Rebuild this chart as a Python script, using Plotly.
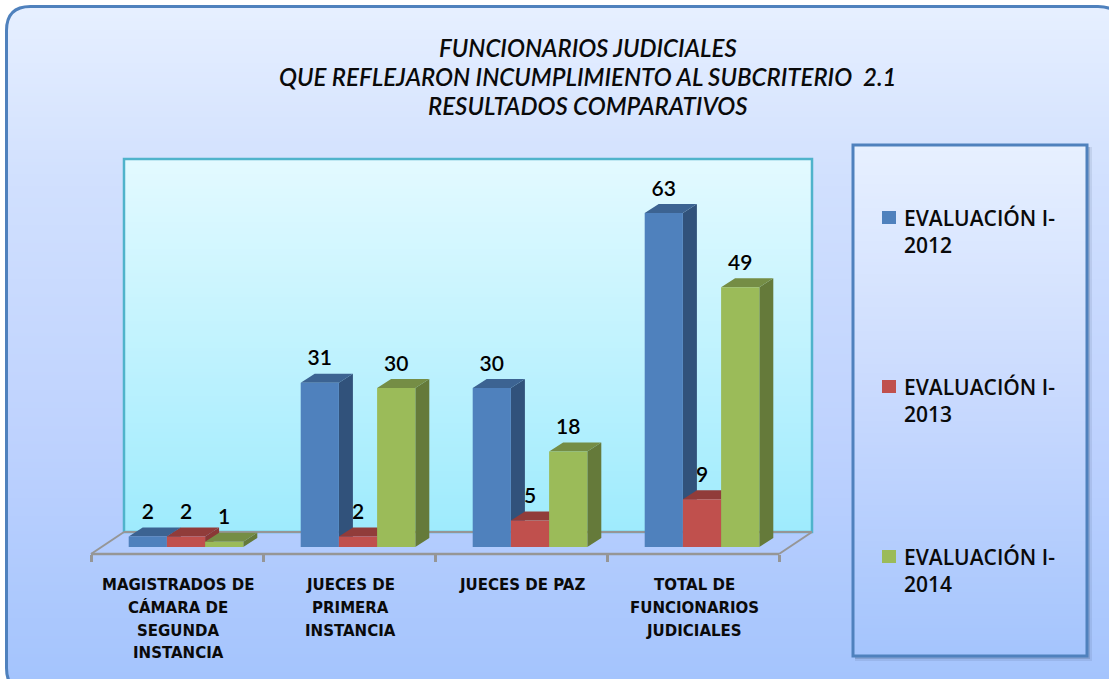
import plotly.graph_objects as go

# ---------- data ----------
title_lines = ["FUNCIONARIOS JUDICIALES",
               "QUE REFLEJARON INCUMPLIMIENTO AL SUBCRITERIO  2.1",
               "RESULTADOS COMPARATIVOS"]
category_lines = [["MAGISTRADOS DE", "CÁMARA DE", "SEGUNDA", "INSTANCIA"],
                  ["JUECES DE", "PRIMERA", "INSTANCIA"],
                  ["JUECES DE PAZ"],
                  ["TOTAL DE", "FUNCIONARIOS", "JUDICIALES"]]
series_2012 = [2, 31, 30, 63]
series_2013 = [2, 2, 5, 9]
series_2014 = [1, 30, 18, 49]
legend_names = [["EVALUACIÓN I-", "2012"], ["EVALUACIÓN I-", "2013"], ["EVALUACIÓN I-", "2014"]]

# ---------- styles ----------
W, H = 1109, 679
FONT = "Lato"
WIDE = "Open Sans"
front = ["#4F81BD", "#C0504D", "#9BBB59"]
side = ["#31527B", "#8A3836", "#657A3A"]
top = ["#3C6392", "#913C3A", "#758D45"]
all_series = [series_2012, series_2013, series_2014]

# plot-area geometry (pixels)
PL, PR, PT, PB = 91, 812, 159, 554
Y0 = 547
PX_X = 172.0   # pixels per category
PX_Y = 5.3     # pixels per unit
DX, DY = 14 / PX_X, 9 / PX_Y
BAR_W = 38.2 / PX_X
GROUP_CENTER = 95 / PX_X
x_range = [0, (PR - PL) / PX_X]
y_range = [-(PB - Y0) / PX_Y, (Y0 - PT) / PX_Y]


def fx(p):
    return (p - PL) / (PR - PL)


def fy(p):
    return (PB - p) / (PB - PT)


def lerp_stops(stops, t):
    for (a, ca), (b, cb) in zip(stops, stops[1:]):
        if t <= b:
            f = (t - a) / (b - a)
            return "rgb(%d,%d,%d)" % tuple(round(x + (y - x) * f) for x, y in zip(ca, cb))
    return "rgb(%d,%d,%d)" % stops[-1][1]


def strips(x0, x1, y0, y1, stops, step=3):
    out = []
    y = y0
    while y < y1:
        e = min(y + step + 1, y1)
        out.append(dict(type="rect", xref="paper", yref="paper", layer="below",
                        x0=fx(x0), x1=fx(x1), y0=fy(y), y1=fy(e),
                        fillcolor=lerp_stops(stops, (y - y0) / (y1 - y0)),
                        line=dict(width=0)))
        y += step
    return out


def rrect_path(x0, y0, x1, y1, r):
    a, b, c, d = fx(x0), fx(x1), fy(y0), fy(y1)
    rx, ry = r / (PR - PL), r / (PB - PT)
    return (f"M{a + rx},{c} L{b - rx},{c} Q{b},{c} {b},{c - ry} L{b},{d + ry} Q{b},{d} {b - rx},{d} "
            f"L{a + rx},{d} Q{a},{d} {a},{d + ry} L{a},{c - ry} Q{a},{c} {a + rx},{c} Z")


def pline(x0, y0, x1, y1, color, width):
    return dict(type="line", xref="paper", yref="paper", layer="below",
                x0=fx(x0), x1=fx(x1), y0=fy(y0), y1=fy(y1),
                line=dict(color=color, width=width))


shapes = []
# outer rounded panel
shapes += strips(0, W, 0, H, [(0, (231, 240, 255)), (0.26, (209, 224, 254)),
                              (0.64, (190, 210, 254)), (1, (164, 196, 253))])
OUT = (6.5, 6.5, 1122, 692, 24)
mask = (f"M{fx(0)},{fy(0)} L{fx(W)},{fy(0)} L{fx(W)},{fy(H)} L{fx(0)},{fy(H)} Z "
        f"{rrect_path(*OUT)}")
shapes.append(dict(type="path", xref="paper", yref="paper", layer="below", path=mask,
                   fillcolor="white", line=dict(width=0)))
shapes.append(dict(type="path", xref="paper", yref="paper", layer="below", path=rrect_path(*OUT),
                   fillcolor="rgba(0,0,0,0)", line=dict(color="#4F81BD", width=3)))
# back wall
WALL = (124, 159, 812, 532)
shapes += strips(WALL[0], WALL[2], WALL[1], WALL[3], [(0, (227, 250, 255)), (1, (158, 235, 253))])
shapes.append(dict(type="rect", xref="paper", yref="paper", layer="below",
                   x0=fx(WALL[0]), x1=fx(WALL[2]), y0=fy(WALL[1]), y1=fy(WALL[3]),
                   fillcolor="rgba(0,0,0,0)", line=dict(color="#4FB3CB", width=2.5)))
# floor edges
GREY = "#969696"
FRONT_R = PL + 4 * PX_X
shapes.append(pline(PL, PB, FRONT_R, PB, GREY, 2.5))
shapes.append(pline(PL, PB, 124, 532, GREY, 2))
shapes.append(pline(FRONT_R, PB, 812, 532, GREY, 2))
shapes.append(pline(124, 532, 812, 532, GREY, 2))
# legend panel
LG = (853, 145, 1087, 656)
for off, alpha in ((5, 0.10), (3, 0.18)):
    shapes.append(dict(type="rect", xref="paper", yref="paper", layer="below",
                       x0=fx(LG[0] + 2), x1=fx(LG[2] + off), y0=fy(LG[1] + 2), y1=fy(LG[3] + off),
                       fillcolor=f"rgba(40,60,90,{alpha})", line=dict(width=0)))
shapes += strips(LG[0], LG[2], LG[1], LG[3], [(0, (231, 240, 255)), (0.5, (200, 217, 254)), (1, (164, 196, 253))])
shapes.append(dict(type="rect", xref="paper", yref="paper", layer="below",
                   x0=fx(LG[0]), x1=fx(LG[2]), y0=fy(LG[1]), y1=fy(LG[3]),
                   fillcolor="rgba(0,0,0,0)", line=dict(color="#4F81BD", width=3)))

annotations = []


def text(x, y, s, size, weight=400, italic=False, anchor="center", xref="paper", color="#0a0a0a", family=FONT):
    annotations.append(dict(x=x, y=fy(y), xref=xref, yref="paper", text=s, showarrow=False,
                            xanchor=anchor, yanchor="middle", borderpad=0,
                            font=dict(family=family, size=size, color=color, weight=weight,
                                      style="italic" if italic else "normal")))


for i, line in enumerate(title_lines):
    text(fx(588), 47 + i * 29.5, line, 24, weight=600, italic=True, family=FONT)
for k, lines in enumerate(category_lines):
    for i, line in enumerate(lines):
        text(k + 0.5 + 1 / PX_X, 585 + i * 22.8, line, 15, weight=700, xref="x", family="DejaVu Sans")
for s, (names, row) in enumerate(zip(legend_names, (218, 387, 557))):
    shapes.append(dict(type="rect", xref="paper", yref="paper", layer="below",
                       x0=fx(882), x1=fx(896), y0=fy(row - 7), y1=fy(row + 6),
                       fillcolor=front[s], line=dict(width=0)))
    for i, line in enumerate(names):
        text(fx(903), row - 0.5 + i * 27, line, 21, weight=600, anchor="left", family=WIDE)

# ---------- traces ----------
fig = go.Figure()
cats = list(range(len(category_lines)))
lab_x, lab_y, lab_t = [], [], []
for s, vals in enumerate(all_series):
    for k, v in zip(cats, vals):
        lab_x.append(k + GROUP_CENTER + (s - 1) * BAR_W)
        lab_y.append(v + 22.5 / PX_Y)
        lab_t.append(str(v))
# labels go first so that neighbouring bar depth faces paint over them
fig.add_trace(go.Scatter(x=lab_x, y=lab_y, text=lab_t, mode="text", textposition="middle center",
                         textfont=dict(family=FONT, size=21, color="#000000", weight=600),
                         hoverinfo="skip", showlegend=False, cliponaxis=False))
for s, vals in enumerate(all_series):
    sx, sy, tx, ty = [], [], [], []
    for k, v in zip(cats, vals):
        l = k + GROUP_CENTER + (s - 1.5) * BAR_W
        r = l + BAR_W
        sx += [r, r + DX, r + DX, r, r, None]
        sy += [0, DY, v + DY, v, 0, None]
        tx += [l, r, r + DX, l + DX, l, None]
        ty += [v, v, v + DY, v + DY, v, None]
    fig.add_trace(go.Scatter(x=sx, y=sy, mode="none", fill="toself", fillcolor=side[s],
                             hoverinfo="skip", showlegend=False))
    fig.add_trace(go.Scatter(x=tx, y=ty, mode="none", fill="toself", fillcolor=top[s],
                             hoverinfo="skip", showlegend=False))
for s, vals in enumerate(all_series):
    fig.add_trace(go.Bar(x=[k + GROUP_CENTER for k in cats], y=vals, name=" ".join(legend_names[s]),
                         marker=dict(color=front[s], line=dict(width=0)),
                         xaxis="x2", yaxis="y2", showlegend=False))

fig.update_layout(
    width=W, height=H, autosize=False, showlegend=False,
    margin=dict(l=PL, r=W - PR, t=PT, b=H - PB, pad=0),
    paper_bgcolor="white", plot_bgcolor="rgba(0,0,0,0)",
    barmode="group", bargap=1 - 3 * BAR_W, bargroupgap=0,
    shapes=shapes, annotations=annotations,
    xaxis=dict(range=x_range, showgrid=False, zeroline=False, showline=False, showticklabels=False,
               tickmode="array", tickvals=[0, 1, 2, 3, 4], ticks="outside", ticklen=7, tickwidth=3,
               tickcolor=GREY),
    yaxis=dict(range=y_range, visible=False),
    xaxis2=dict(range=x_range, overlaying="x", visible=False),
    yaxis2=dict(range=y_range, overlaying="y", visible=False),
)
fig.write_html("out.html", config=dict(displayModeBar=False),
               post_script="document.body.style.margin='0';")
